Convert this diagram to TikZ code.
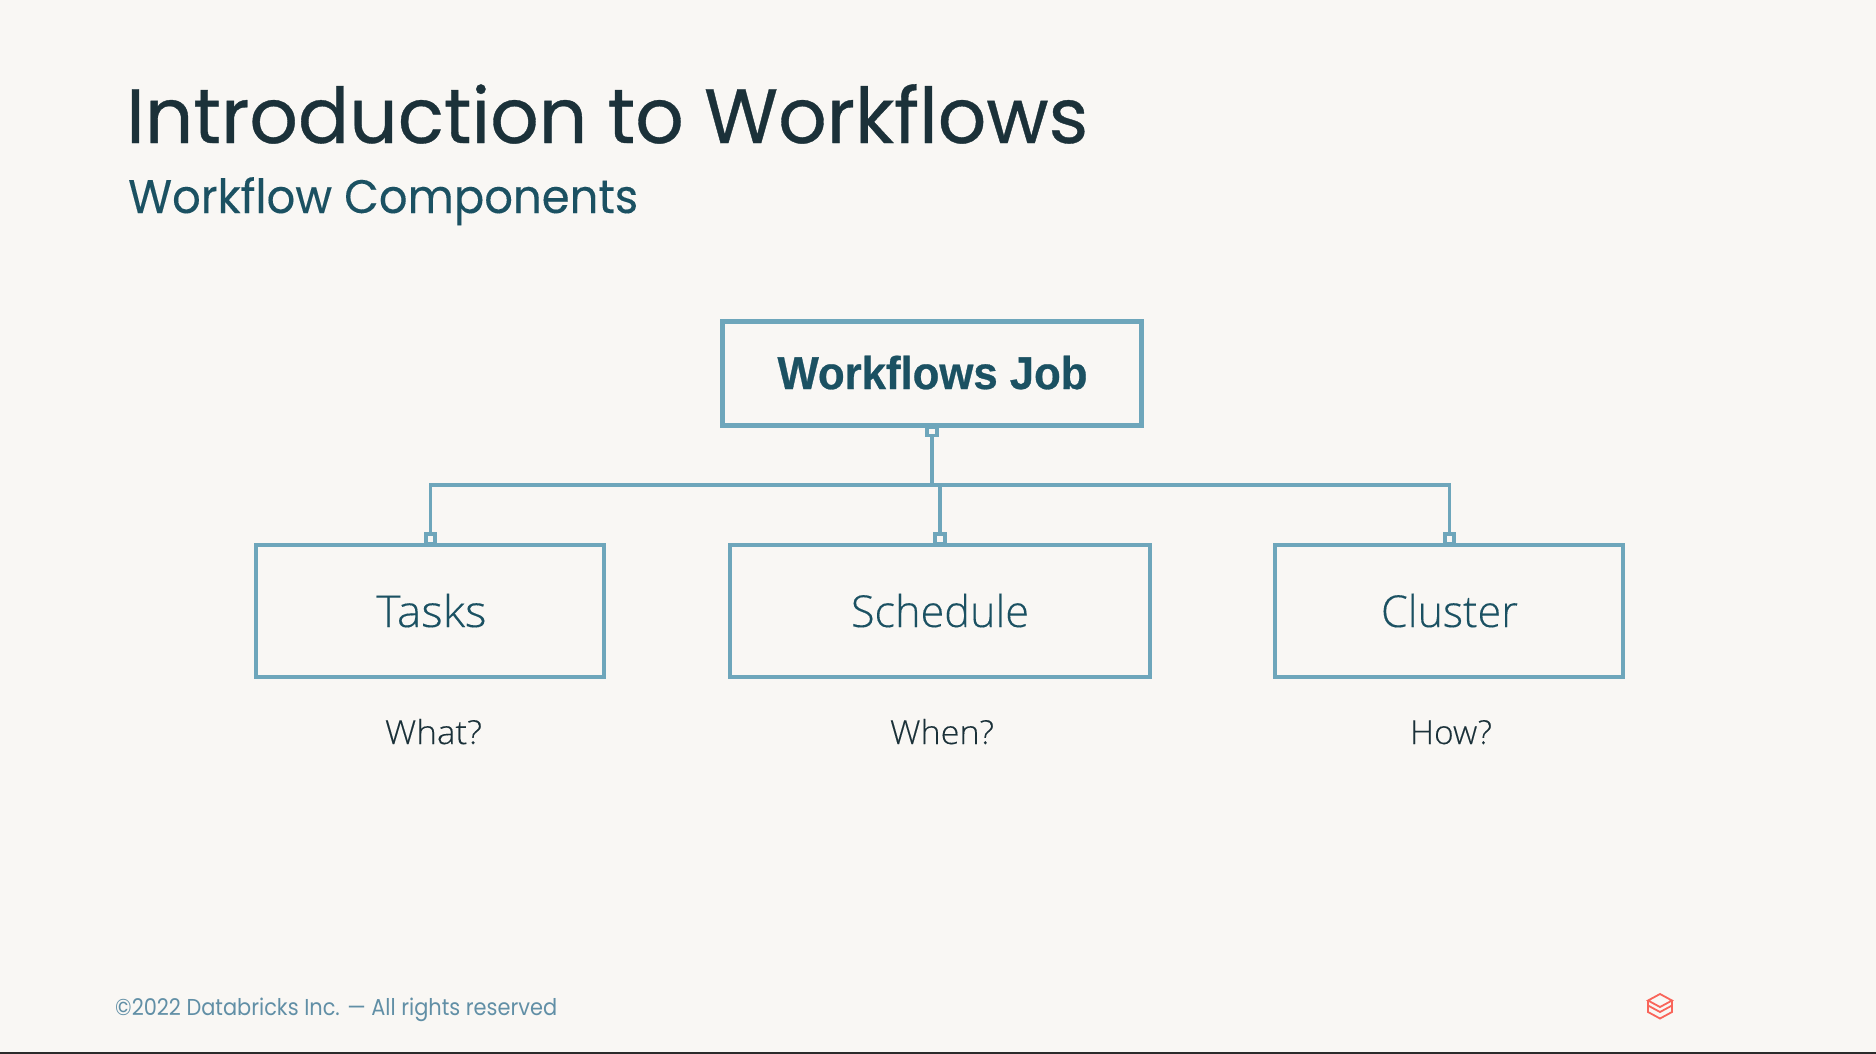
\documentclass[tikz,border=0pt]{standalone}
\usepackage{fontspec}
\usepackage{graphicx}
\setmainfont{Poppins}
\newfontfamily\titlefont{Poppins}[FakeBold=0.45]
\newfontfamily\subfont{Poppins}[FakeBold=0.2]
\newfontfamily\boxfont{Open Sans}[UprightFont=* Light,FakeBold=0.25]
\newfontfamily\jobfont{Liberation Sans}[UprightFont=* Bold,FakeBold=0.6]
\definecolor{bgc}{HTML}{F9F7F4}
\definecolor{navy}{HTML}{1B3139}
\definecolor{teal}{HTML}{1B5162}
\definecolor{edge}{HTML}{6EA6BB}
\definecolor{foot}{HTML}{618FA6}
\definecolor{coral}{HTML}{F9655A}
\definecolor{barc}{HTML}{2B2B2B}
\newcommand{\fitw}[2]{\resizebox{#1pt}{\height}{#2}}
\tikzset{
  jobbox/.style={draw=edge,line width=4.5pt,fill=bgc,outer sep=0pt,inner sep=0pt,text=teal,
    minimum width=419pt,minimum height=104pt,text height=33pt,text depth=2pt,font=\jobfont\fontsize{46}{46}\selectfont},
  compbox/.style={draw=edge,line width=3.8pt,fill=bgc,outer sep=0pt,inner sep=0pt,text=teal,
    minimum height=132pt,text height=32pt,text depth=0pt,font=\boxfont\fontsize{44}{44}\selectfont},
  portbox/.style={draw=edge,line width=3.8pt,fill=bgc,outer sep=0pt,inner sep=0pt,minimum width=9.5pt,minimum height=9.5pt},
  conn/.style={draw=edge,line width=3.8pt},
  question/.style={anchor=base,inner sep=0pt,text=navy,font=\boxfont\fontsize{33}{33}\selectfont},
  logoline/.style={draw=coral,line width=1.8pt,line join=miter},
}
\begin{document}
\begin{tikzpicture}[x=1pt,y=-1pt]
\useasboundingbox (0,0) rectangle (1876,1054);
\fill[bgc] (0,0) rectangle (1876,1054);
\fill[barc] (0,1052) rectangle (1876,1054);
\node[anchor=base west,inner sep=0pt,text=navy,font=\titlefont\fontsize{77}{77}\selectfont] (title) at (126,143) {\fitw{962}{Introduction to Workflows}};
\node[anchor=base west,inner sep=0pt,text=teal,font=\subfont\fontsize{47}{47}\selectfont] (subtitle) at (128,213) {\fitw{510}{Workflow Components}};
\node[jobbox] (job) at (932,373.5) {\hspace*{1pt}\fitw{310}{Workflows Job}};
\node[compbox,minimum width=348pt] (tasks) at (430,611) {\hspace*{3pt}\fitw{110}{Tasks}};
\node[compbox,minimum width=420pt] (schedule) at (940,611) {\fitw{178}{Schedule}};
\node[compbox,minimum width=348pt] (cluster) at (1449,611) {\hspace*{1pt}\fitw{137}{Cluster}};
\coordinate (bus) at (932,485);
\node[portbox,minimum width=10pt,minimum height=8.5pt] (pjob) at (932,431.25) {};
\node[portbox] (ptasks) at (430.5,538.7) {};
\node[portbox] (pschedule) at (940,538.7) {};
\node[portbox] (pcluster) at (1449.5,538.7) {};
\draw[conn] (ptasks.north) -- (ptasks.north |- bus) -- (pcluster.north |- bus) -- (pcluster.north);
\draw[conn] (pjob.south) -- (bus);
\draw[conn] (pschedule.north) -- (pschedule.north |- bus);
\node[question] (what) at (433.5,744) {\fitw{97}{What?}};
\node[question] (when) at (942,744) {\fitw{104}{When?}};
\node[question] (how) at (1451,744) {\fitw{82}{How?}};
\node[anchor=base west,inner sep=0pt,text=foot,font=\fontsize{23}{23}\selectfont] (footer) at (115,1015) {\fitw{442}{©2022 Databricks Inc. — All rights reserved}};
% logo
\draw[logoline] (1660,994) -- (1672,1000.5) -- (1660,1007) -- (1648,1000.5) -- cycle;
\draw[logoline] (1648,1000.5) -- (1648,1005.5) -- (1660,1012) -- (1672,1005.5) -- (1672,1000.5);
\draw[logoline] (1648,1005.5) -- (1648,1012) -- (1660,1018.5) -- (1672,1012) -- (1672,1005.5);
\end{tikzpicture}
\end{document}
